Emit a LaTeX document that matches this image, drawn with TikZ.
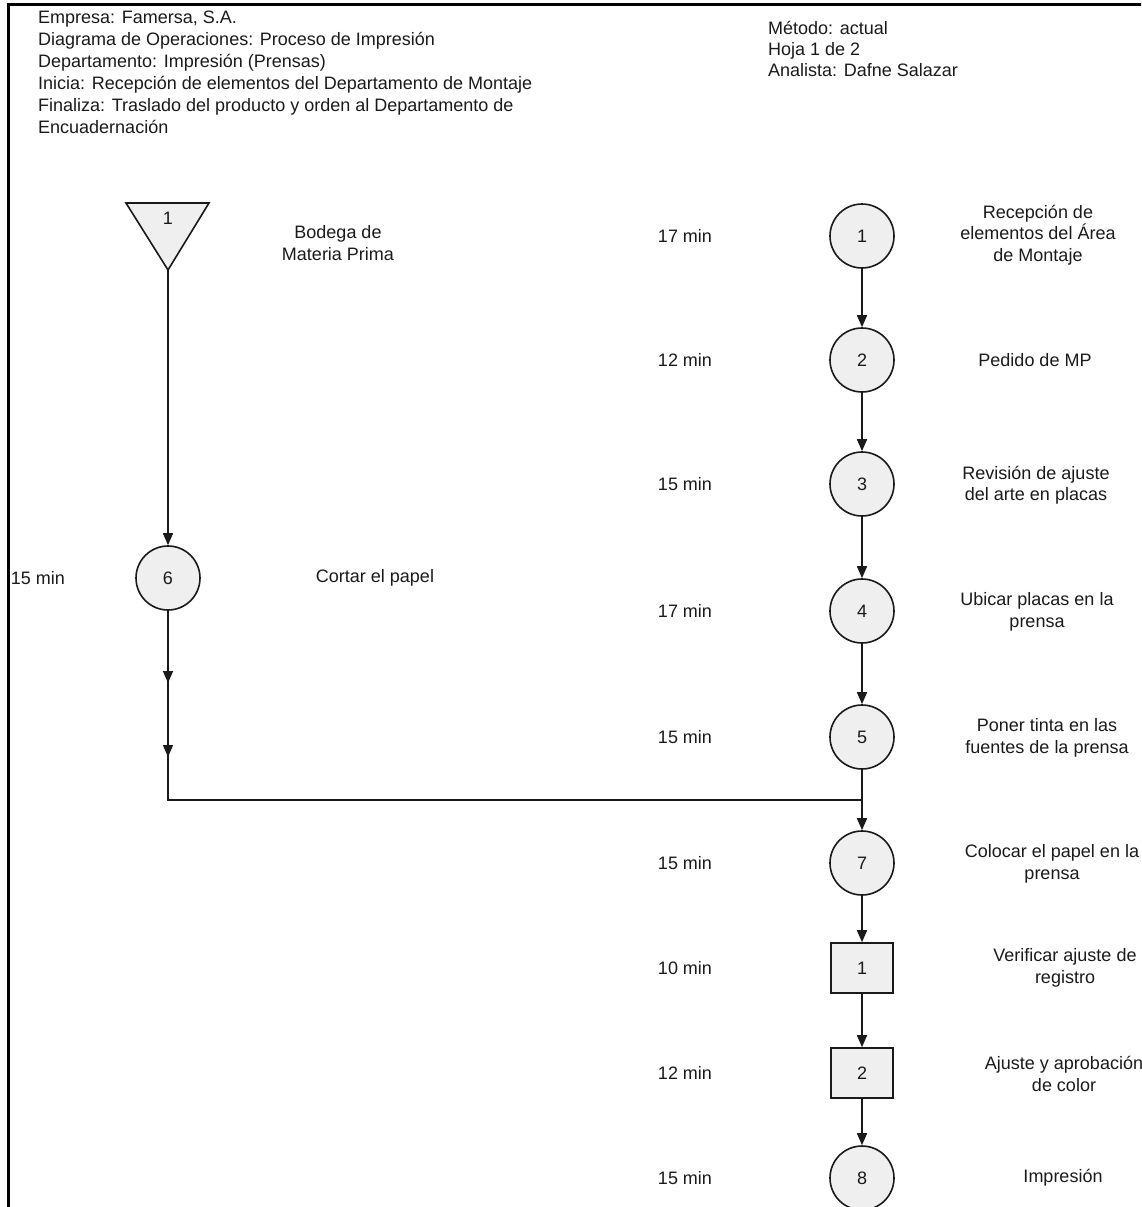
\documentclass[tikz,border=0pt]{standalone}
\usepackage{fontspec}
\setmainfont{Liberation Sans}
\usetikzlibrary{arrows.meta}
\definecolor{shapefill}{HTML}{EFEFEF}
\definecolor{ink}{HTML}{1A1A1A}
\begin{document}
\begin{tikzpicture}[x=1pt,y=-1pt,
  every node/.style={font=\fontsize{18}{21.5}\selectfont, text=ink},
  op/.style={circle, draw=ink, line width=1.6pt, fill=shapefill, minimum size=64pt, inner sep=0pt},
  insp/.style={rectangle, draw=ink, line width=1.6pt, fill=shapefill, minimum width=62pt, minimum height=50pt, inner sep=0pt},
  lbl/.style={align=center, inner sep=0pt},
  tm/.style={inner sep=0pt},
  flow/.style={draw=ink, line width=1.6pt, -{Triangle[length=12pt,width=10pt]}},
  link/.style={draw=ink, line width=1.6pt},
  frame/.style={draw=black, line width=3pt}]
\useasboundingbox (0,0) rectangle (1141,1207);
\clip (0,0) rectangle (1141,1207);

% sheet border
\draw[frame] (8.5,1210) -- (8.5,5) -- (1145,5);

% header blocks
\node[anchor=north west, align=left, inner sep=0pt, font=\fontsize{18}{22}\selectfont] (hdrL) at (38,11)
  {Empresa: Famersa, S.A.\\
   Diagrama de Operaciones: Proceso de Impresión\\
   Departamento: Impresión (Prensas)\\
   Inicia: Recepción de elementos del Departamento de Montaje\\
   Finaliza: Traslado del producto y orden al Departamento de\\
   Encuadernación};
\node[anchor=north west, align=left, inner sep=0pt, font=\fontsize{18}{21}\selectfont] (hdrR) at (768,21)
  {Método: actual\\
   Hoja 1 de 2\\
   Analista: Dafne Salazar};

% raw material store
\draw[link, fill=shapefill] (126,203) -- (209,203) -- (168,270) -- cycle;
\coordinate (tri) at (168,270);
\node (tnum) at (168,218) {1};
\node[lbl] (tlab) at (338,243) {Bodega de\\Materia Prima};

% left branch
\node[op] (c6) at (168,578) {6};
\node[tm] (t6) at (38,578) {15 min};
\node[lbl] (l6) at (375,578) {Cortar el papel};

% main column
\node[op] (c1) at (862,236) {1};
\node[op] (c2) at (862,360) {2};
\node[op] (c3) at (862,484) {3};
\node[op] (c4) at (862,611) {4};
\node[op] (c5) at (862,737) {5};
\node[op] (c7) at (862,863) {7};
\node[insp] (s1) at (862,968) {1};
\node[insp] (s2) at (862,1073) {2};
\node[op] (c8) at (862,1178) {8};

% times
\node[tm] (t1) at (685,236) {17 min};
\node[tm] (t2) at (685,360) {12 min};
\node[tm] (t3) at (685,484) {15 min};
\node[tm] (t4) at (685,611) {17 min};
\node[tm] (t5) at (685,737) {15 min};
\node[tm] (t7) at (685,863) {15 min};
\node[tm] (t8) at (685,968) {10 min};
\node[tm] (t9) at (685,1073) {12 min};
\node[tm] (t10) at (685,1178) {15 min};

% descriptions
\node[lbl] (l1) at (1038,235) {Recepción de\\elementos del Área\\de Montaje};
\node[lbl] (l2) at (1035,360) {Pedido de MP};
\node[lbl] (l3) at (1036,485) {Revisión de ajuste\\del arte en placas};
\node[lbl] (l4) at (1037,612) {Ubicar placas en la\\prensa};
\node[lbl] (l5) at (1047,738) {Poner tinta en las\\fuentes de la prensa};
\node[lbl] (l7) at (1052,864) {Colocar el papel en la\\prensa};
\node[lbl] (l8) at (1065,968) {Verificar ajuste de\\registro};
\node[lbl] (l9) at (1064,1074) {Ajuste y aprobación\\de color};
\node[lbl] (l10) at (1063,1178) {Impresión};

% connectors
\coordinate (m1) at (168,683);
\coordinate (m2) at (168,757);
\coordinate (corner) at (168,800);
\coordinate (join) at (862,800);

\draw[flow] (tri) -- (c6);
% cut paper runs down and across to the press line, with two flow marks on the way
\draw[link] (c6) -- (corner) -- (join);
\draw[flow] (c6) -- (m1);
\draw[flow] (m1) -- (m2);

\draw[flow] (c1) -- (c2);
\draw[flow] (c2) -- (c3);
\draw[flow] (c3) -- (c4);
\draw[flow] (c4) -- (c5);
\draw[flow] (c5) -- (c7);
\draw[flow] (c7) -- (s1);
\draw[flow] (s1) -- (s2);
\draw[flow] (s2) -- (c8);
\end{tikzpicture}
\end{document}
